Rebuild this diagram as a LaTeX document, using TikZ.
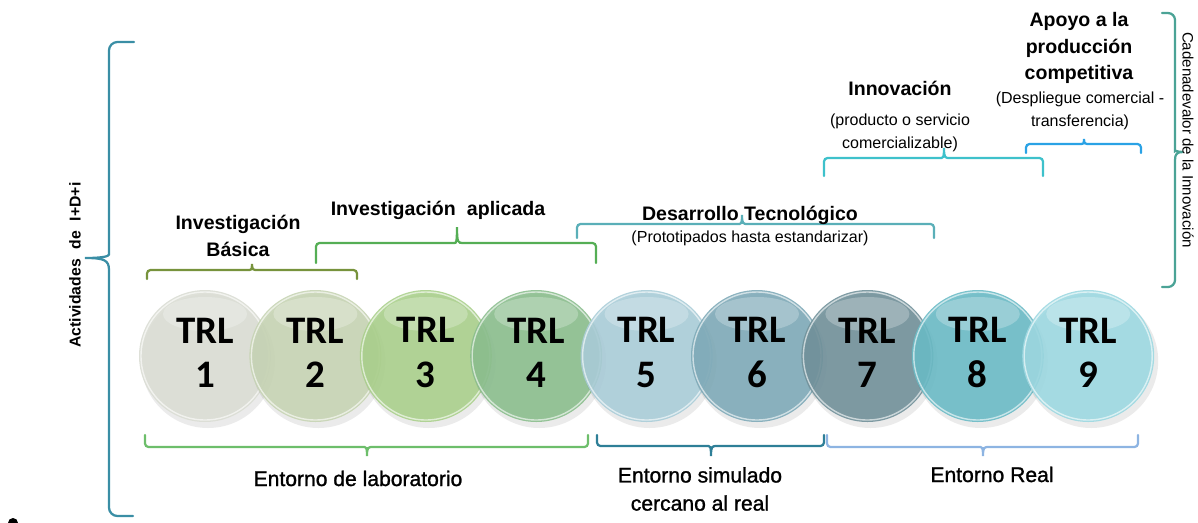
\documentclass[tikz,border=0pt]{standalone}
\usepackage{fontspec}
\setmainfont{Liberation Sans}
\newfontfamily\trlfont{Carlito}
\newfontfamily\envfont[FakeBold=1.2]{Liberation Sans}
\usetikzlibrary{calc}

\definecolor{trlA}{HTML}{DADDD4}
\definecolor{trlB}{HTML}{C7D4B4}
\definecolor{trlC}{HTML}{AAD08C}
\definecolor{trlD}{HTML}{8BBE8E}
\definecolor{trlE}{HTML}{AACDD8}
\definecolor{trlF}{HTML}{7FAAB8}
\definecolor{trlG}{HTML}{71919A}
\definecolor{trlH}{HTML}{6BBBC6}
\definecolor{trlI}{HTML}{9DD8E1}
\definecolor{cBasica}{HTML}{77933C}
\definecolor{cAplic}{HTML}{55AE55}
\definecolor{cDesa}{HTML}{5AAFB8}
\definecolor{cInno}{HTML}{3EC1CB}
\definecolor{cApoyo}{HTML}{2AA2E5}
\definecolor{cLab}{HTML}{6DBE6B}
\definecolor{cSim}{HTML}{2E7F97}
\definecolor{cReal}{HTML}{8DB4E2}
\definecolor{cLeft}{HTML}{3A8EA5}
\definecolor{cRight}{HTML}{4BA396}

% horizontal brace: colour, x1, x2, y of the ends, y of the bar, x and y of the tip
\newcommand{\hbrace}[7]{%
  \draw[brace, #1] (#2,#4) [rounded corners=2.5pt] |- ({#6-6},#5) [sharp corners]
    .. controls ({#6-1},#5) and (#6,#5) .. (#6,#7)
    .. controls (#6,#5) and ({#6+1},#5) .. ({#6+6},#5)
    [rounded corners=2.5pt] -| (#3,#4);}

\begin{document}
\begin{tikzpicture}[x=0.025cm, y=-0.025cm,
    brace/.style={line width=1.6pt, line cap=round},
    trl/.style={font=\trlfont\bfseries\fontsize{27.7}{31.3}\selectfont, align=center, inner sep=0pt},
    head/.style={font=\bfseries\fontsize{13.9}{19}\selectfont, align=center, inner sep=0pt},
    note/.style={font=\fontsize{11.4}{16}\selectfont, align=center, inner sep=0pt},
    env/.style={font=\envfont\fontsize{15}{20}\selectfont, align=center, inner sep=0pt}]
  \useasboundingbox (0,0) rectangle (1198,522);

  % the nine TRL circles
  \foreach \n/\col in {1/trlA, 2/trlB, 3/trlC, 4/trlD, 5/trlE, 6/trlF, 7/trlG, 8/trlH, 9/trlI}{
    \coordinate (c\n) at ({205+110.4*(\n-1)},356);
    \fill[black, opacity=0.08] ($(c\n)+(3,5)$) circle (67);
    \fill[\col, fill opacity=0.9] (c\n) circle (66);
    \fill[white, fill opacity=0.25] ($(c\n)+(0,-42)$) ellipse [x radius=42, y radius=17];
    \draw[white, opacity=0.6, line width=1pt] (c\n) circle (64);
    \node[trl] (t\n) at ($(c\n)+(0,-3.5)$) {TRL\\\n};
  }

  % upper braces
  \hbrace{cBasica}{147}{357}{279}{270}{252}{264}
  \hbrace{cAplic}{316}{596}{263}{243}{457}{227}
  \hbrace{cDesa}{577}{934}{238}{224}{742}{215}
  \hbrace{cInno}{824}{1043}{176}{158}{944}{148}
  \hbrace{cApoyo}{1026}{1141}{153}{144}{1084}{139}

  % lower braces
  \hbrace{cLab}{145}{588}{435}{447}{367}{456}
  \hbrace{cSim}{597}{824}{435}{446}{711}{456}
  \hbrace{cReal}{827}{1138}{435}{447}{983}{456}

  % big side braces
  \draw[brace, cLeft] (134,42) [rounded corners=6pt] -| (109,246) [sharp corners]
    .. controls (109,256) and (104,258) .. (85,258)
    .. controls (104,258) and (109,260) .. (109,270)
    [rounded corners=6pt] |- (133,516);
  \draw[brace, cRight] (1162,13) [rounded corners=5pt] -| (1175,144) [sharp corners]
    .. controls (1175,150) and (1177,152) .. (1183,152)
    .. controls (1177,152) and (1175,154) .. (1175,160)
    [rounded corners=5pt] |- (1162,287);

  % labels
  \node[head] (basica) at (238,236) {Investigación\\Básica};
  \node[head, anchor=base] (aplicada) at (438,215) {Investigación\hspace{0.3em} aplicada};
  \node[head, anchor=base] (desarrollo) at (750,220) {Desarrollo Tecnológico};
  \node[note, anchor=base] (prototipos) at (750,242) {(Prototipados hasta estandarizar)};
  \node[head, anchor=base] (innovacion) at (900,95) {Innovación};
  \node[note] (producto) at (900,133) {(producto o servicio\\comercializable)};
  \node[head] (apoyo) at (1079,48) {Apoyo a la\\producción\\competitiva};
  \node[note] (despliegue) at (1080,111) {(Despliegue comercial -\\transferencia)};

  \node[env, anchor=base] (lab) at (358,486) {Entorno de laboratorio};
  \node[env] (sim) at (700,489) {Entorno simulado\\cercano al real};
  \node[env, anchor=base] (real) at (992,482) {Entorno Real};

  \node[font=\bfseries\fontsize{11.2}{13}\selectfont, rotate=90] (actividades) at (75,265)
    {Actividades\hspace{0.35em} de\hspace{0.35em} I+D+i};
  \node[font=\fontsize{10.7}{13}\selectfont, rotate=-90] (cadena) at (1188,140)
    {Cadenadevalor de la Innovación};

  \fill (13,523) circle (5);
\end{tikzpicture}
\end{document}
